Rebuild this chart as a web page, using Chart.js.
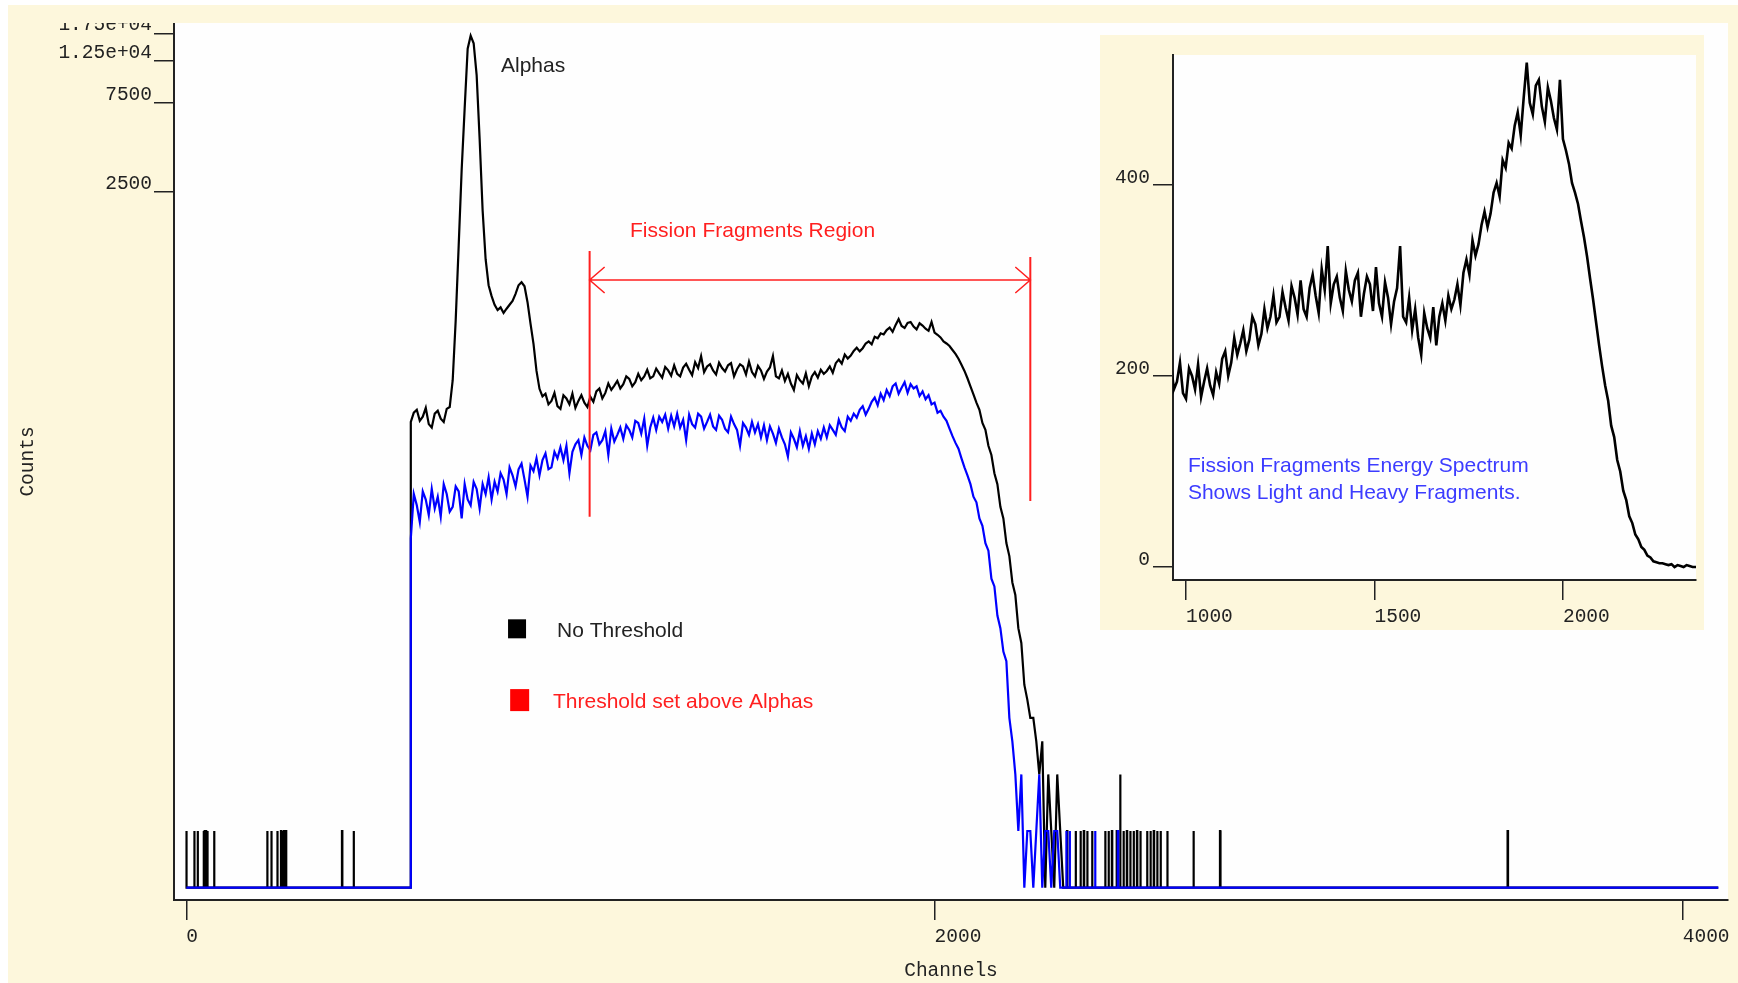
<!DOCTYPE html>
<html>
<head>
<meta charset="utf-8">
<title>Fission fragments spectrum</title>
<script src="https://cdn.jsdelivr.net/npm/chart.js@4.4.1/dist/chart.umd.min.js"></script>
<style>
  body { margin: 0; background: #fff; width: 1738px; height: 983px; overflow: hidden; position: relative; }
  #page { position: absolute; left: 8px; top: 5px; width: 1730px; height: 978px; background: #fdf7dc; }
  #main { position: absolute; left: 0; top: 23px; }
  #inset { position: absolute; left: 1100px; top: 35px; }
</style>
</head>
<body>
<div id="page"></div>
<canvas id="main" width="1738" height="960"></canvas>
<canvas id="inset" width="604" height="595"></canvas>
<script>
// spectra sampled every 8 channels from channel 592, one row = 80 channels
const firstChannel = 592;
const channelStep = 8;

const noThreshold = [
  0, 150, 168, 174, 152, 160, 178, 146, 140, 166,
  172, 156, 150, 176, 180, 250, 520, 1300, 3300, 7000,
  14500, 17000, 15500, 10500, 4800, 2000, 1100, 800, 700, 630,
  590, 610, 570, 600, 630, 660, 720, 800, 830, 790,
  650, 500, 390, 280, 225, 205, 212, 186, 194, 214,
  182, 176, 208, 200, 186, 212, 178, 194, 208, 190,
  180, 204, 192, 218, 226, 200, 214, 240, 222, 234,
  248, 226, 238, 262, 254, 232, 244, 270, 250, 262,
  284, 256, 262, 288, 272, 258, 294, 282, 264, 300,
  270, 262, 292, 306, 284, 266, 312, 290, 336, 276,
  296, 304, 282, 268, 310, 290, 278, 300, 308, 262,
  286, 304, 296, 268, 314, 276, 262, 298, 282, 254,
  278, 292, 336, 262, 256, 282, 248, 270, 240, 222,
  266, 250, 240, 272, 232, 262, 276, 258, 284, 270,
  280, 296, 274, 308, 322, 306, 342, 326, 338, 358,
  372, 356, 370, 392, 402, 388, 426, 418, 444, 438,
  462, 476, 452, 492, 528, 486, 474, 504, 510, 482,
  466, 502, 488, 470, 458, 510, 448, 436, 422, 402,
  392, 380, 362, 345, 325, 302, 280, 256, 232, 210,
  190, 174, 148, 136, 112, 100, 80, 70, 53, 46,
  34, 29, 21, 18, 12, 10, 6, 5, 4, 4,
  3, 2, 3, 0, 2, 1, 0, 2, 1, 0
];

const aboveAlphas = [
  0, 36, 62, 54, 44, 64, 58, 48, 66, 52,
  60, 47, 70, 62, 50, 53, 68, 64, 46, 70,
  58, 54, 72, 66, 52, 70, 62, 76, 58, 72,
  64, 80, 74, 62, 86, 78, 68, 84, 90, 74,
  60, 88, 82, 96, 78, 94, 102, 84, 86, 104,
  96, 110, 94, 112, 80, 104, 114, 120, 100, 124,
  112, 106, 128, 132, 114, 120, 134, 100, 138, 118,
  128, 140, 122, 144, 136, 124, 152, 148, 130, 156,
  112, 140, 158, 136, 160, 150, 164, 138, 162, 142,
  166, 140, 154, 120, 164, 146, 140, 166, 160, 138,
  150, 164, 142, 136, 162, 154, 138, 132, 160, 146,
  136, 112, 148, 140, 128, 150, 132, 146, 124, 144,
  120, 142, 130, 116, 138, 124, 114, 98, 132, 122,
  110, 134, 112, 126, 108, 130, 114, 134, 122, 140,
  124, 144, 136, 128, 154, 140, 134, 160, 152, 166,
  158, 174, 182, 164, 176, 192, 202, 184, 212, 196,
  222, 206, 232, 240, 212, 228, 244, 214, 238, 226,
  232, 206, 218, 198, 208, 186, 190, 168, 172, 160,
  152, 138, 126, 116, 108, 96, 86, 78, 70, 60,
  56, 46, 42, 34, 31, 22, 20, 14, 12, 9,
  8, 4, 3, 2, 1, 2, 0, 1, 1, 0,
  1, 2, 0, 1, 1, 0, 1, 1, 0, 0
];

// lone counts outside the main block: [channel, counts]
const noThresholdHits = [
  [0, 1], [21, 1], [30, 1], [46, 1], [49, 1], [52, 1], [56, 1], [74, 1],
  [216, 1], [227, 1], [243, 1], [253, 1], [257, 1], [261, 1], [266, 1], [416, 1], [447, 1],
  [2354, 1], [2377, 1], [2390, 1], [2399, 1], [2408, 1], [2421, 1], [2456, 1], [2465, 1],
  [2474, 1], [2487, 1], [2496, 2], [2505, 1], [2514, 1], [2523, 1], [2532, 1], [2541, 1],
  [2550, 1], [2568, 1], [2577, 1], [2586, 1], [2595, 1], [2604, 1], [2622, 1], [2692, 1],
  [2763, 1], [2764, 1], [3531, 1], [3532, 1]
];
const aboveAlphasHits = [[2352, 1], [2361, 1], [2429, 1], [2490, 1]];

const lastChannel = 4095;
const xTicks = [0, 2000, 4000];
const yTicks = [2500, 7500, 12500, 17500];
const yTickLabels = ['2500', '7500', '1.25e+04', '1.75e+04'];
const insetXTicks = [1000, 1500, 2000];
const insetYTicks = [0, 200, 400];

// fission fragment window (channels) and the counts level of its arrow
const regionChannels = [1078, 2256];
const regionArrowAt = 853;
const regionLeftBar = [1217, 47];
const regionRightBar = [1130, 57];

const ZERO_LEVEL = 0.5; // empty channels are drawn on this line of the log axis

function toPoints(values, hits) {
  const pts = [{x: 0, y: 0}];
  const spike = ([c, n]) => pts.push({x: c, y: 0}, {x: c, y: n}, {x: c + 1, y: n}, {x: c + 1, y: 0});
  hits.filter(h => h[0] < firstChannel).forEach(spike);
  values.forEach((v, i) => {
    const c = firstChannel + i * channelStep;
    if (i === 0) pts.push({x: c, y: v}, {x: c + channelStep - 0.5, y: v});
    else pts.push({x: c, y: v});
  });
  hits.filter(h => h[0] >= firstChannel).forEach(spike);
  pts.push({x: lastChannel, y: 0});
  return pts;
}
const onLog = pts => pts.map(p => ({x: p.x, y: Math.max(p.y, ZERO_LEVEL)}));

const monoFont = {family: 'Liberation Mono', size: 19.5};
const noteFont = '21px "Liberation Sans", Arial, sans-serif';
const ink = '#222';
const red = '#ff1f1f';

const plotBackground = {
  id: 'plotBackground',
  beforeDraw(chart, args, opts) {
    const {ctx, chartArea: a} = chart;
    ctx.save();
    if (opts.page) {
      ctx.fillStyle = opts.page;
      ctx.fillRect(0, 0, chart.width, chart.height);
    }
    ctx.fillStyle = '#fefefe';
    ctx.fillRect(a.left, a.top, a.right - a.left, a.bottom - a.top);
    ctx.restore();
  }
};

function label(ctx, text, x, y, color) {
  ctx.font = noteFont;
  ctx.fillStyle = color;
  ctx.textAlign = 'left';
  ctx.textBaseline = 'middle';
  ctx.fillText(text, x, y);
}

const mainNotes = {
  id: 'mainNotes',
  afterDatasetsDraw(chart) {
    const {ctx} = chart;
    const x = chart.scales.x, y = chart.scales.y;
    ctx.save();

    // bracket over the fission fragments window
    const xl = x.getPixelForValue(regionChannels[0]);
    const xr = x.getPixelForValue(regionChannels[1]);
    const ya = y.getPixelForValue(regionArrowAt);
    ctx.strokeStyle = red;
    ctx.lineWidth = 2;
    ctx.beginPath();
    ctx.moveTo(xl, y.getPixelForValue(regionLeftBar[0]));
    ctx.lineTo(xl, y.getPixelForValue(regionLeftBar[1]));
    ctx.moveTo(xr, y.getPixelForValue(regionRightBar[0]));
    ctx.lineTo(xr, y.getPixelForValue(regionRightBar[1]));
    ctx.stroke();
    ctx.lineWidth = 1.5;
    ctx.beginPath();
    ctx.moveTo(xl, ya); ctx.lineTo(xr, ya);
    ctx.moveTo(xl + 15, ya - 13); ctx.lineTo(xl, ya); ctx.lineTo(xl + 15, ya + 13);
    ctx.moveTo(xr - 15, ya - 13); ctx.lineTo(xr, ya); ctx.lineTo(xr - 15, ya + 13);
    ctx.stroke();

    label(ctx, 'Fission Fragments Region', x.getPixelForValue(1186), y.getPixelForValue(1550), red);
    label(ctx, 'Alphas', x.getPixelForValue(841), y.getPixelForValue(11700), ink);

    // legend boxes
    const keys = [
      {text: 'No Threshold', box: '#000', color: ink, ch: 884, counts: 11.9, w: 18, h: 19, textCh: 991, textCounts: 11.5},
      {text: 'Threshold set above Alphas', box: '#ff0000', color: red, ch: 891, counts: 4.97, w: 19, h: 22, textCh: 980, textCounts: 4.87}
    ];
    keys.forEach(k => {
      const cx = x.getPixelForValue(k.ch), cy = y.getPixelForValue(k.counts);
      ctx.fillStyle = k.box;
      ctx.fillRect(cx - k.w / 2, cy - k.h / 2, k.w, k.h);
      label(ctx, k.text, x.getPixelForValue(k.textCh), y.getPixelForValue(k.textCounts), k.color);
    });
    ctx.restore();
  }
};

const insetNotes = {
  id: 'insetNotes',
  afterDatasetsDraw(chart) {
    const {ctx} = chart;
    const x = chart.scales.x, y = chart.scales.y;
    ctx.save();
    label(ctx, 'Fission Fragments Energy Spectrum', x.getPixelForValue(1005), y.getPixelForValue(106), '#3c3cff');
    label(ctx, 'Shows Light and Heavy Fragments.', x.getPixelForValue(1005), y.getPixelForValue(77), '#3c3cff');
    ctx.restore();
  }
};

function axisStyle(extra) {
  return Object.assign({
    bounds: 'data',
    grid: {drawOnChartArea: false, tickLength: 20, color: ink, lineWidth: 1.5},
    border: {color: ink, width: 2}
  }, extra);
}

new Chart(document.getElementById('main'), {
  type: 'line',
  data: {
    datasets: [
      {label: 'Threshold set above Alphas', data: onLog(toPoints(aboveAlphas, aboveAlphasHits)),
       borderColor: '#0000ff', borderWidth: 2.2, pointRadius: 0},
      {label: 'No Threshold', data: onLog(toPoints(noThreshold, noThresholdHits)),
       borderColor: '#000', borderWidth: 2.2, pointRadius: 0}
    ]
  },
  options: {
    responsive: false,
    animation: false,
    devicePixelRatio: 1,
    layout: {padding: {top: 0, right: 10, bottom: 0, left: 0}},
    plugins: {legend: {display: false}, tooltip: {enabled: false}},
    scales: {
      x: axisStyle({
        type: 'linear', min: -33, max: 4121,
        afterBuildTicks: s => { s.ticks = xTicks.map(v => ({value: v})); },
        afterFit: s => { s.height = 83; s.paddingLeft = 0; s.paddingRight = 0; },
        ticks: {align: 'start', padding: 5, color: ink, font: monoFont, maxRotation: 0, autoSkip: false,
                callback: v => String(v)},
        title: {display: true, text: 'Channels', color: ink, font: monoFont, padding: 0}
      }),
      y: axisStyle({
        type: 'logarithmic', min: 0.4296, max: 19860,
        afterBuildTicks: s => { s.ticks = yTicks.map(v => ({value: v})); },
        afterFit: s => { s.width = 174; s.paddingTop = 0; s.paddingBottom = 0; },
        ticks: {padding: 2, labelOffset: -8, color: ink, font: monoFont, autoSkip: false,
                callback: (v, i) => yTickLabels[i]},
        title: {display: true, text: 'Counts', color: ink, font: monoFont, padding: {top: 16}}
      })
    }
  },
  plugins: [plotBackground, mainNotes]
});

new Chart(document.getElementById('inset'), {
  type: 'line',
  data: {
    datasets: [
      {label: 'No Threshold', data: toPoints(noThreshold, noThresholdHits),
       borderColor: '#000', borderWidth: 2.6, pointRadius: 0}
    ]
  },
  options: {
    responsive: false,
    animation: false,
    devicePixelRatio: 1,
    layout: {padding: {top: 20, right: 8, bottom: 0, left: 0}},
    plugins: {legend: {display: false}, tooltip: {enabled: false}, plotBackground: {page: '#fdf7dc'}},
    scales: {
      x: axisStyle({
        type: 'linear', min: 965.5, max: 2353,
        afterBuildTicks: s => { s.ticks = insetXTicks.map(v => ({value: v})); },
        afterFit: s => { s.height = 50; s.paddingLeft = 0; s.paddingRight = 0; },
        ticks: {align: 'start', padding: 5, color: ink, font: monoFont, maxRotation: 0, autoSkip: false,
                callback: v => String(v)}
      }),
      y: axisStyle({
        type: 'linear', min: -13.6, max: 536,
        afterBuildTicks: s => { s.ticks = insetYTicks.map(v => ({value: v})); },
        afterFit: s => { s.width = 73; s.paddingTop = 0; s.paddingBottom = 0; },
        ticks: {padding: 3, labelOffset: -7, color: ink, font: monoFont, autoSkip: false,
                callback: v => String(v)}
      })
    }
  },
  plugins: [plotBackground, insetNotes]
});
</script>
</body>
</html>
